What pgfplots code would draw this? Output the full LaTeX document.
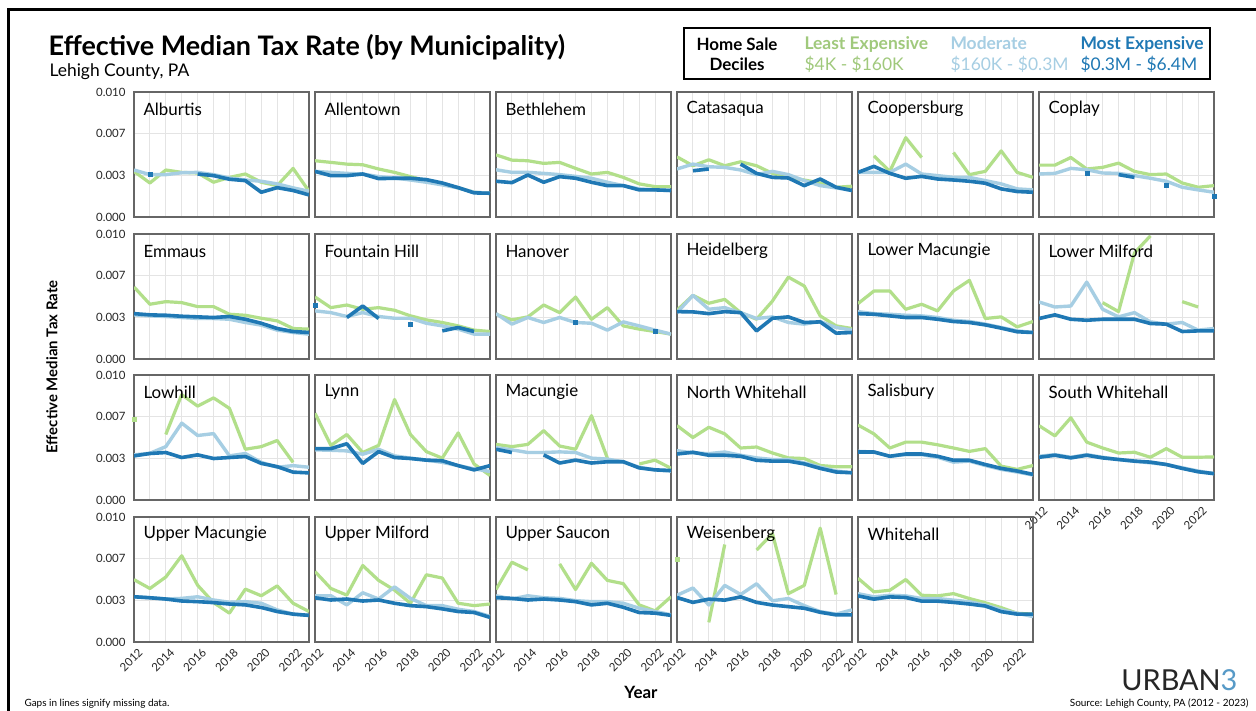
\documentclass[border=0pt]{standalone}
\usepackage{pgfplots}
\usepackage{pgfplotstable}
\pgfplotsset{compat=1.18}
\usepackage{fontspec}
\setmainfont{Lato}

\definecolor{cLo}{HTML}{B2DF8A}
\definecolor{cMid}{HTML}{A6CEE3}
\definecolor{cHi}{HTML}{1F78B4}
\definecolor{cGrid}{HTML}{E4E4E4}
\definecolor{cFrame}{HTML}{666666}

% values: effective median tax rate, by decile group (lo = least expensive, mid = moderate, hi = most expensive)
\pgfplotstableread{
yr lo mid hi
2012 0.00365 0.00376 nan
2013 0.00272 0.00339 0.00344
2014 0.00376 0.00339 nan
2015 0.00357 0.00354 nan
2016 0.00352 0.00357 0.00344
2017 0.00278 0.00339 0.00331
2018 0.00317 0.00312 0.00302
2019 0.00344 0.00296 0.00291
2020 0.00278 0.00286 0.00198
2021 0.00251 0.00265 0.00235
2022 0.00389 0.00233 0.00212
2023 0.00206 0.00206 0.00177
}\tAlburtis
\pgfplotstableread{
yr lo mid hi
2012 0.00450 0.00365 0.00365
2013 0.00437 0.00357 0.00331
2014 0.00423 0.00349 0.00331
2015 0.00418 0.00344 0.00344
2016 0.00384 0.00323 0.00307
2017 0.00357 0.00312 0.00310
2018 0.00323 0.00296 0.00310
2019 0.00291 0.00278 0.00299
2020 0.00265 0.00257 0.00272
2021 0.00233 0.00233 0.00235
2022 0.00198 0.00198 0.00193
2023 0.00190 0.00190 0.00190
}\tAllentown
\pgfplotstableread{
yr lo mid hi
2012 0.00497 0.00378 0.00286
2013 0.00455 0.00357 0.00275
2014 0.00450 0.00357 0.00336
2015 0.00429 0.00349 0.00278
2016 0.00437 0.00339 0.00323
2017 0.00389 0.00325 0.00310
2018 0.00344 0.00310 0.00278
2019 0.00357 0.00278 0.00251
2020 0.00317 0.00251 0.00251
2021 0.00265 0.00225 0.00217
2022 0.00243 0.00217 0.00217
2023 0.00243 0.00212 0.00212
}\tBethlehem
\pgfplotstableread{
yr lo mid hi
2012 0.00481 0.00384 nan
2013 0.00410 0.00423 0.00370
2014 0.00458 0.00402 0.00384
2015 0.00410 0.00397 nan
2016 0.00442 0.00376 0.00423
2017 0.00410 0.00339 0.00349
2018 0.00349 0.00365 0.00317
2019 0.00317 0.00339 0.00312
2020 0.00296 0.00291 0.00251
2021 0.00272 0.00251 0.00304
2022 0.00238 0.00233 0.00238
2023 0.00246 0.00212 0.00212
}\tCatasaqua
\pgfplotstableread{
yr lo mid hi
2012 nan 0.00357 0.00357
2013 0.00489 0.00357 0.00405
2014 0.00365 0.00357 0.00349
2015 0.00635 0.00423 0.00310
2016 0.00476 0.00344 0.00325
2017 nan 0.00331 0.00304
2018 0.00516 0.00317 0.00296
2019 0.00339 0.00317 0.00286
2020 0.00365 0.00291 0.00270
2021 0.00529 0.00265 0.00225
2022 0.00357 0.00225 0.00204
2023 0.00317 0.00217 0.00198
}\tCoopersburg
\pgfplotstableread{
yr lo mid hi
2012 0.00415 0.00344 nan
2013 0.00415 0.00349 nan
2014 0.00476 0.00389 nan
2015 0.00384 0.00378 0.00349
2016 0.00397 0.00352 nan
2017 0.00431 0.00349 0.00339
2018 0.00365 0.00331 0.00317
2019 0.00339 0.00310 nan
2020 0.00344 0.00286 0.00251
2021 0.00272 0.00238 nan
2022 0.00238 0.00217 nan
2023 0.00251 0.00198 0.00164
}\tCoplay
\pgfplotstableread{
yr lo mid hi
2012 0.00576 0.00353 0.00363
2013 0.00438 0.00345 0.00353
2014 0.00459 0.00340 0.00350
2015 0.00451 0.00332 0.00342
2016 0.00419 0.00324 0.00337
2017 0.00419 0.00324 0.00332
2018 0.00358 0.00318 0.00340
2019 0.00350 0.00292 0.00318
2020 0.00326 0.00271 0.00286
2021 0.00305 0.00231 0.00244
2022 0.00244 0.00212 0.00220
2023 0.00239 0.00199 0.00212
}\tEmmaus
\pgfplotstableread{
yr lo mid hi
2012 0.00496 0.00385 0.00432
2013 0.00411 0.00371 nan
2014 0.00432 0.00340 0.00332
2015 0.00398 0.00371 0.00424
2016 0.00411 0.00340 0.00324
2017 0.00390 0.00326 nan
2018 0.00345 0.00326 0.00279
2019 0.00313 0.00286 nan
2020 0.00292 0.00265 0.00225
2021 0.00265 0.00239 0.00252
2022 0.00231 0.00199 0.00220
2023 0.00220 0.00199 nan
}\tFountain
\pgfplotstableread{
yr lo mid hi
2012 0.00358 0.00363 nan
2013 0.00313 0.00279 nan
2014 0.00337 0.00332 nan
2015 0.00432 0.00292 nan
2016 0.00371 0.00332 nan
2017 0.00496 0.00292 0.00297
2018 0.00318 0.00286 nan
2019 0.00411 0.00231 nan
2020 0.00265 0.00297 nan
2021 0.00239 0.00265 nan
2022 0.00220 0.00231 0.00225
2023 0.00199 0.00199 nan
}\tHanover
\pgfplotstableread{
yr lo mid hi
2012 0.00390 0.00371 0.00379
2013 0.00509 0.00509 0.00377
2014 0.00446 0.00398 0.00363
2015 0.00477 0.00411 0.00379
2016 0.00371 0.00371 0.00371
2017 0.00318 0.00324 0.00225
2018 0.00464 0.00337 0.00326
2019 0.00655 0.00292 0.00337
2020 0.00584 0.00279 0.00292
2021 0.00345 0.00300 0.00297
2022 0.00265 0.00252 0.00207
2023 0.00244 0.00231 0.00212
}\tHeidelberg
\pgfplotstableread{
yr lo mid hi
2012 0.00443 0.00379 0.00363
2013 0.00544 0.00363 0.00358
2014 0.00544 0.00358 0.00345
2015 0.00398 0.00350 0.00332
2016 0.00438 0.00345 0.00332
2017 0.00385 0.00332 0.00318
2018 0.00544 0.00310 0.00300
2019 0.00629 0.00300 0.00292
2020 0.00324 0.00279 0.00273
2021 0.00337 0.00252 0.00247
2022 0.00257 0.00225 0.00218
2023 0.00300 0.00212 0.00212
}\tLMacungie
\pgfplotstableread{
yr lo mid hi
2012 nan 0.00456 0.00324
2013 nan 0.00416 0.00353
2014 nan 0.00424 0.00318
2015 nan 0.00615 0.00310
2016 0.00451 0.00398 0.00318
2017 0.00379 0.00337 0.00318
2018 0.00849 0.00371 0.00318
2019 0.00985 0.00297 0.00284
2020 nan 0.00279 0.00279
2021 0.00459 0.00292 0.00220
2022 0.00416 0.00231 0.00225
2023 nan 0.00244 0.00225
}\tLMilford
\pgfplotstableread{
yr lo mid hi
2012 0.00649 0.00361 0.00353
2013 nan 0.00374 0.00372
2014 0.00524 0.00427 0.00380
2015 0.00843 0.00615 0.00340
2016 0.00751 0.00516 0.00361
2017 0.00817 0.00531 0.00332
2018 0.00733 0.00353 0.00340
2019 0.00406 0.00372 0.00348
2020 0.00427 0.00301 0.00293
2021 0.00476 0.00262 0.00267
2022 0.00301 0.00275 0.00223
2023 nan 0.00262 0.00217
}\tLowhill
\pgfplotstableread{
yr lo mid hi
2012 0.00694 0.00401 0.00411
2013 0.00437 0.00398 0.00411
2014 0.00524 0.00393 0.00450
2015 0.00380 0.00366 0.00293
2016 0.00437 0.00406 0.00387
2017 0.00804 0.00353 0.00340
2018 0.00524 0.00335 0.00332
2019 0.00387 0.00319 0.00319
2020 0.00335 0.00301 0.00314
2021 0.00537 0.00275 0.00275
2022 0.00288 0.00249 0.00241
2023 0.00196 0.00228 0.00275
}\tLynn
\pgfplotstableread{
yr lo mid hi
2012 0.00445 0.00419 0.00406
2013 0.00427 0.00401 0.00380
2014 0.00445 0.00380 nan
2015 0.00555 0.00380 0.00361
2016 0.00432 0.00385 0.00296
2017 0.00406 0.00380 0.00319
2018 0.00675 0.00335 0.00296
2019 0.00335 0.00327 0.00306
2020 nan 0.00306 0.00306
2021 0.00288 0.00262 0.00257
2022 0.00319 0.00241 0.00241
2023 0.00254 0.00230 0.00236
}\tMacungie
\pgfplotstableread{
yr lo mid hi
2012 0.00595 0.00395 0.00368
2013 0.00500 0.00376 0.00382
2014 0.00582 0.00371 0.00358
2015 0.00529 0.00384 0.00358
2016 0.00416 0.00358 0.00350
2017 0.00424 0.00337 0.00318
2018 0.00376 0.00324 0.00311
2019 0.00337 0.00324 0.00311
2020 0.00332 0.00297 0.00289
2021 0.00276 0.00263 0.00253
2022 0.00266 0.00232 0.00224
2023 0.00266 0.00218 0.00218
}\tNWhitehall
\pgfplotstableread{
yr lo mid hi
2012 0.00600 0.00389 0.00384
2013 0.00529 0.00384 0.00384
2014 0.00416 0.00350 0.00350
2015 0.00463 0.00363 0.00368
2016 0.00463 0.00363 0.00368
2017 0.00442 0.00342 0.00350
2018 0.00416 0.00303 0.00318
2019 0.00389 0.00311 0.00318
2020 0.00411 0.00276 0.00284
2021 0.00271 0.00245 0.00253
2022 0.00245 0.00224 0.00232
2023 0.00276 0.00200 0.00205
}\tSalisbury
\pgfplotstableread{
yr lo mid hi
2012 0.00595 0.00350 0.00342
2013 0.00513 0.00363 0.00358
2014 0.00658 0.00342 0.00337
2015 0.00463 0.00363 0.00358
2016 0.00416 0.00342 0.00337
2017 0.00376 0.00324 0.00324
2018 0.00382 0.00311 0.00311
2019 0.00342 0.00297 0.00303
2020 0.00411 0.00284 0.00284
2021 0.00342 0.00258 0.00253
2022 0.00342 0.00232 0.00226
2023 0.00345 0.00211 0.00211
}\tSWhitehall
\pgfplotstableread{
yr lo mid hi
2012 0.00499 0.00362 0.00362
2013 0.00428 0.00354 0.00354
2014 0.00520 0.00344 0.00344
2015 0.00690 0.00349 0.00328
2016 0.00454 0.00362 0.00323
2017 0.00315 0.00336 0.00315
2018 0.00231 0.00318 0.00304
2019 0.00423 0.00323 0.00297
2020 0.00370 0.00310 0.00276
2021 0.00449 0.00257 0.00244
2022 0.00310 0.00223 0.00223
2023 0.00244 0.00213 0.00213
}\tUMacungie
\pgfplotstableread{
yr lo mid hi
2012 0.00564 0.00370 0.00354
2013 0.00428 0.00370 0.00336
2014 0.00375 0.00297 0.00344
2015 0.00612 0.00394 0.00328
2016 0.00493 0.00344 0.00336
2017 0.00415 0.00441 0.00310
2018 0.00310 0.00349 0.00291
2019 0.00538 0.00291 0.00283
2020 0.00512 0.00291 0.00265
2021 0.00310 0.00262 0.00244
2022 0.00291 0.00244 0.00236
2023 0.00304 0.00205 0.00197
}\tUMilford
\pgfplotstableread{
yr lo mid hi
2012 0.00420 0.00370 0.00354
2013 0.00638 0.00344 0.00349
2014 0.00577 0.00370 0.00336
2015 nan 0.00354 0.00344
2016 0.00625 0.00349 0.00336
2017 0.00420 0.00331 0.00323
2018 0.00630 0.00323 0.00297
2019 0.00493 0.00323 0.00310
2020 0.00467 0.00310 0.00278
2021 0.00297 0.00270 0.00236
2022 0.00249 0.00244 0.00231
2023 0.00362 0.00218 0.00213
}\tUSaucon
\pgfplotstableread{
yr lo mid hi
2012 0.00662 0.00374 0.00356
2013 nan 0.00432 0.00317
2014 0.00157 0.00296 0.00343
2015 0.00780 0.00453 0.00335
2016 nan 0.00380 0.00361
2017 0.00736 0.00466 0.00317
2018 0.00866 0.00330 0.00296
2019 0.00387 0.00348 0.00283
2020 0.00453 0.00291 0.00270
2021 0.00911 0.00243 0.00238
2022 0.00380 0.00223 0.00217
2023 nan 0.00257 0.00217
}\tWeisenberg
\pgfplotstableread{
yr lo mid hi
2012 0.00510 0.00387 0.00369
2013 0.00401 0.00361 0.00343
2014 0.00414 0.00374 0.00361
2015 0.00500 0.00369 0.00356
2016 0.00374 0.00348 0.00327
2017 0.00369 0.00348 0.00327
2018 0.00387 0.00335 0.00317
2019 0.00348 0.00322 0.00304
2020 0.00314 0.00296 0.00288
2021 0.00275 0.00257 0.00243
2022 0.00230 0.00230 0.00223
2023 0.00223 0.00204 0.00223
}\tWhitehall

\pgfplotsset{
  panel/.style={
    width=175bp, height=125bp, scale only axis, anchor=north west,
    xmin=2012, xmax=2023, ymin=0, ymax=0.01,
    xtick={2012,2014,...,2022}, minor xtick={2013,2015,...,2023},
    ytick={0,0.0033333,0.0066667,0.01},
    grid=both,
    major grid style={draw=cGrid, line width=0.9bp},
    minor grid style={draw=cGrid, line width=0.9bp},
    axis line style={draw=cFrame, line width=1.1bp},
    major tick length=0pt, minor tick length=0pt,
    scaled ticks=false,
    xticklabels={}, yticklabels={},
    unbounded coords=jump,
    /pgf/number format/assume math mode=true,
  },
  ylab/.style={
    yticklabels={0.000,0.003,0.007,0.010},
    yticklabel style={font=\fontsize{11.5}{13}\selectfont, text=black!85, xshift=-5bp},
  },
  xlab/.style={
    xticklabels={2012,2014,2016,2018,2020,2022},
    xticklabel style={font=\fontsize{11.5}{13}\selectfont, text=black!85,
      rotate=45, anchor=north east, yshift=-3bp, xshift=2bp},
  },
  lo/.style={color=cLo, line width=3.2bp, line join=round},
  mid/.style={color=cMid, line width=3.4bp, line join=round},
  hi/.style={color=cHi, line width=3.6bp, line join=round},
  hidot/.style={only marks, mark=square*, mark size=2bp, color=cHi},
  lodot/.style={only marks, mark=square*, mark size=2bp, color=cLo},
}

\newcommand\panel[6]{%
  \begin{axis}[panel, at={(#1bp,-#2bp)}, #3]
    \addplot[lo] table[x=yr, y=lo] {#5};
    \addplot[mid] table[x=yr, y=mid] {#5};
    \addplot[hi] table[x=yr, y=hi] {#5};
    #6
    \node[anchor=west, font=\fontsize{17}{19}\selectfont]
      at (rel axis cs:0,1) [xshift=6bp, yshift=-17bp] {#4};
  \end{axis}}

\begin{document}
\begin{tikzpicture}[x=1bp, y=1bp]
\useasboundingbox (0,0) rectangle (1256,-711);
\fill[white] (0,0) rectangle (1256,-711);
\draw[black, line width=3bp] (8,-711) -- (8,-10) -- (1256,-10);

% titles
\node[anchor=base west, font=\fontsize{27}{31}\selectfont\bfseries] at (45,-56)
  {Effective Median Tax Rate (by Municipality)};
\node[anchor=base west, font=\fontsize{17.5}{20}\selectfont] at (46,-77) {Lehigh County, PA};

% legend box
\draw[black, line width=1.5bp] (684,-28) rectangle (1210,-79);
\node[font=\fontsize{17}{20}\selectfont\bfseries, align=center] at (737,-54) {Home Sale\\Deciles};
\node[anchor=base west, font=\fontsize{17.5}{20}\selectfont\bfseries, text=cLo!90!black] at (801,-50) {Least Expensive};
\node[anchor=base west, font=\fontsize{17.5}{20}\selectfont, text=cLo!90!black] at (801,-71) {\$4K - \$160K};
\node[anchor=base west, font=\fontsize{17.5}{20}\selectfont\bfseries, text=cMid] at (947,-50) {Moderate};
\node[anchor=base west, font=\fontsize{17.5}{20}\selectfont, text=cMid] at (947,-71) {\$160K - \$0.3M};
\node[anchor=base west, font=\fontsize{17.5}{20}\selectfont\bfseries, text=cHi] at (1077,-50) {Most Expensive};
\node[anchor=base west, font=\fontsize{17.5}{20}\selectfont, text=cHi] at (1077,-71) {\$0.3M - \$6.4M};

% row 1
\panel{134}{92}{ylab}{Alburtis}{\tAlburtis}{\addplot[hidot] coordinates {(2013,0.00344)};}
\panel{315}{92}{}{Allentown}{\tAllentown}{}
\panel{496}{92}{}{Bethlehem}{\tBethlehem}{}
\panel{677}{92}{}{Catasaqua}{\tCatasaqua}{}
\panel{858}{92}{}{Coopersburg}{\tCoopersburg}{}
\panel{1039}{92}{}{Coplay}{\tCoplay}{\addplot[hidot] coordinates {(2015,0.00349) (2020,0.00251) (2023,0.00164)};}
% row 2
\panel{134}{234}{ylab}{Emmaus}{\tEmmaus}{}
\panel{315}{234}{}{Fountain Hill}{\tFountain}{\addplot[hidot] coordinates {(2012,0.00432) (2018,0.00279)};}
\panel{496}{234}{}{Hanover}{\tHanover}{\addplot[hidot] coordinates {(2017,0.00297) (2022,0.00225)};}
\panel{677}{234}{}{Heidelberg}{\tHeidelberg}{}
\panel{858}{234}{}{Lower Macungie}{\tLMacungie}{}
\panel{1039}{234}{}{Lower Milford}{\tLMilford}{}
% row 3
\panel{134}{375}{ylab}{Lowhill}{\tLowhill}{\addplot[lodot] coordinates {(2012,0.00649)};}
\panel{315}{375}{}{Lynn}{\tLynn}{}
\panel{496}{375}{}{Macungie}{\tMacungie}{}
\panel{677}{375}{}{North Whitehall}{\tNWhitehall}{}
\panel{858}{375}{}{Salisbury}{\tSalisbury}{}
\panel{1039}{375}{xlab}{South Whitehall}{\tSWhitehall}{}
% row 4
\panel{134}{517}{ylab,xlab}{Upper Macungie}{\tUMacungie}{}
\panel{315}{517}{xlab}{Upper Milford}{\tUMilford}{}
\panel{496}{517}{xlab}{Upper Saucon}{\tUSaucon}{}
\panel{677}{517}{xlab}{Weisenberg}{\tWeisenberg}{\addplot[lodot] coordinates {(2012,0.00662)};}
\panel{858}{517}{xlab}{Whitehall}{\tWhitehall}{}

% axis titles
\node[rotate=90, font=\fontsize{15}{18}\selectfont\bfseries] at (52,-367) {Effective Median Tax Rate};
\node[font=\fontsize{17}{20}\selectfont\bfseries] at (641,-692) {Year};

% footer
\node[anchor=base west, font=\fontsize{10}{12}\selectfont] at (21,-706) {Gaps in lines signify missing data.};
\node[anchor=base east, font=\fontsize{10}{12}\selectfont] at (1252,-706) {Source: Lehigh County, PA (2012 - 2023)};
\node[anchor=base east, font=\fontsize{29}{32}\selectfont, text=black!85] at (1241,-690)
  {URBAN\textcolor{cHi!75!white}{3}};
\end{tikzpicture}
\end{document}
